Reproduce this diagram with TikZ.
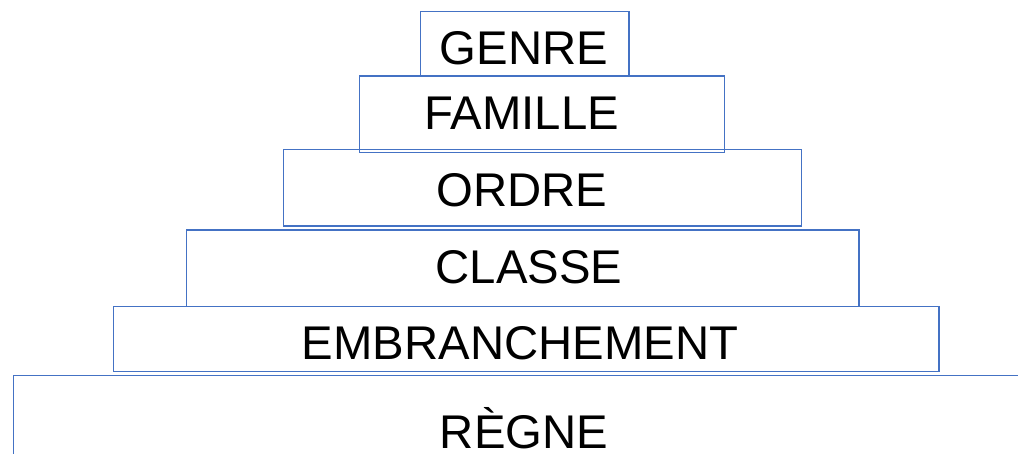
\documentclass[tikz,border=0pt]{standalone}
\usepackage{fontspec}
\setmainfont{Liberation Sans}
\usepackage{xcolor}
\usepackage{tikz}
\usetikzlibrary{positioning}
\definecolor{edgeblue}{HTML}{4472C4}

\begin{document}
\begin{tikzpicture}[
    x=1pt, y=-1pt,
    rank/.style={rectangle, draw=edgeblue, line width=1.2pt, inner sep=0pt, outer sep=0pt},
    rlabel/.style={anchor=base, inner sep=0pt, font=\fontsize{47.3}{50}\selectfont}
]
\useasboundingbox (0,0) rectangle (1018,454);
\clip (0,0) rectangle (1018,454);

% levels, top to bottom
\node[rank, minimum width=208.3pt, minimum height=64.3pt] (genre) at (524.85,43.85) {};
\node[rank, minimum width=365pt, minimum height=76.7pt] (famille) at (541.8,114.35) {};
\node[rank, minimum width=518.4pt, minimum height=76.7pt] (ordre) at (542.5,187.65) {};
\node[rank, minimum width=672.3pt, minimum height=76.7pt] (classe) at (522.85,268.35) {};
\node[rank, minimum width=825.7pt, minimum height=65pt] (embr) at (526.15,339.2) {};
\node[rank, anchor=north west, minimum width=1040pt, minimum height=110pt] (regne) at (13.7,375.7) {};

\node[rlabel] (genretxt) at (524,65) {GENRE};
\node[rlabel] (familletxt) at (521.7,130) {FAMILLE};
\node[rlabel] (ordretxt) at (522,206.7) {ORDRE};
\node[rlabel] (classetxt) at (529,284) {CLASSE};
\node[rlabel] (embrtxt) at (520,360) {EMBRANCHEMENT};
\node[rlabel] (regnetxt) at (524,448.5) {RÈGNE};

\end{tikzpicture}
\end{document}
